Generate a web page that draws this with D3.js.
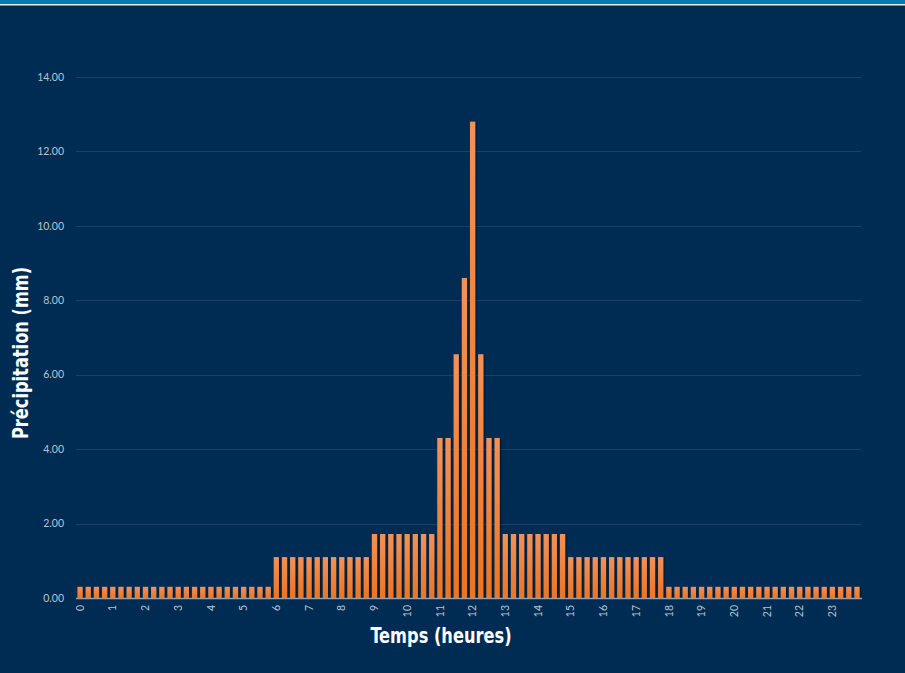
<!DOCTYPE html>
<html>
<head>
<meta charset="utf-8">
<script src="https://cdn.jsdelivr.net/npm/d3@7"></script>
<style>
  html, body { margin: 0; padding: 0; background: #002c54; }
  svg { display: block; }
</style>
</head>
<body>
<svg id="chart" width="905" height="673"></svg>
<script>
// Hourly labels along the time axis
const hourLabels = ["0","1","2","3","4","5","6","7","8","9","10","11","12","13","14","15","16","17","18","19","20","21","22","23"];

// Rainfall per quarter hour (mm), 96 steps over 24 h
const rainfall = [
  0.30,0.30,0.30,0.30, 0.30,0.30,0.30,0.30, 0.30,0.30,0.30,0.30,
  0.30,0.30,0.30,0.30, 0.30,0.30,0.30,0.30, 0.30,0.30,0.30,0.30,
  1.10,1.10,1.10,1.10, 1.10,1.10,1.10,1.10, 1.10,1.10,1.10,1.10,
  1.72,1.72,1.72,1.72, 1.72,1.72,1.72,1.72,
  4.30,4.30,6.55,8.60, 12.80,6.55,4.30,4.30,
  1.72,1.72,1.72,1.72, 1.72,1.72,1.72,1.72,
  1.10,1.10,1.10,1.10, 1.10,1.10,1.10,1.10, 1.10,1.10,1.10,1.10,
  0.30,0.30,0.30,0.30, 0.30,0.30,0.30,0.30, 0.30,0.30,0.30,0.30,
  0.30,0.30,0.30,0.30, 0.30,0.30,0.30,0.30, 0.30,0.30,0.30,0.30
];

// Value axis ticks
const yTicks = [0, 2, 4, 6, 8, 10, 12, 14];

const svg = d3.select("#chart");
const W = 905, H = 673;

// background and header strip
svg.append("rect").attr("width", W).attr("height", H).attr("fill", "#002c54");
svg.append("rect").attr("width", W).attr("height", 4).attr("fill", "#0a76b2");
svg.append("rect").attr("y", 4).attr("width", W).attr("height", 1.5).attr("fill", "#e8eef4");

const defs = svg.append("defs");
const grad = defs.append("linearGradient").attr("id", "barGrad")
  .attr("x1", 0).attr("y1", 0).attr("x2", 0).attr("y2", 1)
  .attr("gradientUnits", "objectBoundingBox");
grad.append("stop").attr("offset", "0%").attr("stop-color", "#f39158");
grad.append("stop").attr("offset", "100%").attr("stop-color", "#ee7420");

const shadow = defs.append("filter").attr("id", "barShadow")
  .attr("x", "-50%").attr("y", "-5%").attr("width", "200%").attr("height", "110%");
shadow.append("feDropShadow").attr("dx", 1.2).attr("dy", 0.6)
  .attr("stdDeviation", 0.8).attr("flood-color", "#000000").attr("flood-opacity", 0.55);

const idx = d3.range(rainfall.length);
const x = d3.scaleBand().domain(idx).range([74.5, 862.5]).padding(0.36);
const y = d3.scaleLinear().domain([0, 14]).range([598, 77]);

const gridLeft = 76, gridRight = 861;

// horizontal gridlines
svg.append("g").selectAll("line").data(yTicks.filter(d => d > 0)).join("line")
  .attr("x1", gridLeft).attr("x2", gridRight)
  .attr("y1", d => Math.round(y(d)) + 0.5).attr("y2", d => Math.round(y(d)) + 0.5)
  .attr("stroke", "#1b3f66").attr("stroke-width", 1);

// y tick labels
svg.append("g").selectAll("text").data(yTicks).join("text")
  .attr("x", 64).attr("y", d => y(d)).attr("dy", "0.35em")
  .attr("text-anchor", "end")
  .attr("font-family", "Lato, 'Open Sans', sans-serif").attr("font-size", 10.5)
  .attr("fill", "#b9c4d2")
  .text(d => d3.format(".2f")(d));

// bars
svg.append("g").selectAll("rect").data(rainfall).join("rect")
  .attr("x", (d, i) => x(i)).attr("width", x.bandwidth())
  .attr("y", d => y(d)).attr("height", d => y(0) - y(d))
  .attr("fill", "url(#barGrad)")
  .attr("filter", "url(#barShadow)");

// baseline
svg.append("line")
  .attr("x1", gridLeft).attr("x2", gridRight + 1)
  .attr("y1", y(0) + 0.5).attr("y2", y(0) + 0.5)
  .attr("stroke", "#8e9fb3").attr("stroke-width", 1.5);

// hour labels, rotated, at the first quarter of each hour
svg.append("g").selectAll("text").data(hourLabels).join("text")
  .attr("transform", (d, i) => `translate(${x(i * 4) + x.bandwidth() / 2},605) rotate(-90)`)
  .attr("dy", "0.35em")
  .attr("text-anchor", "end")
  .attr("font-family", "Lato, 'Open Sans', sans-serif").attr("font-size", 10.5)
  .attr("fill", "#b9c4d2")
  .text(d => d);

// axis titles, condensed horizontally
const titleFont = "'DejaVu Sans', sans-serif";
svg.append("text")
  .attr("transform", "translate(441,643) scale(0.82,1)")
  .attr("text-anchor", "middle")
  .attr("font-family", titleFont).attr("font-stretch", "condensed")
  .attr("font-weight", "bold").attr("font-size", 22)
  .attr("fill", "#ffffff")
  .text("Temps (heures)");

svg.append("text")
  .attr("transform", "translate(28,353) rotate(-90) scale(0.82,1)")
  .attr("text-anchor", "middle")
  .attr("font-family", titleFont).attr("font-stretch", "condensed")
  .attr("font-weight", "bold").attr("font-size", 22)
  .attr("fill", "#ffffff")
  .text("Précipitation (mm)");
</script>
</body>
</html>
